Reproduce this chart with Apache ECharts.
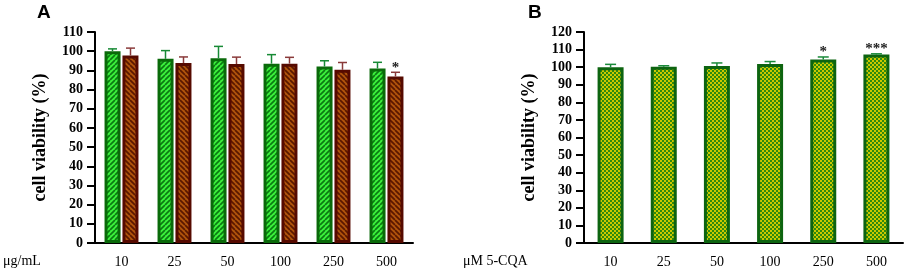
<!DOCTYPE html>
<html>
<head>
<meta charset="utf-8">
<script src="https://cdn.jsdelivr.net/npm/echarts@6/dist/echarts.min.js"></script>
<style>
  html, body { margin: 0; padding: 0; background: #fff; }
  #container { width: 906px; height: 275px; }
</style>
</head>
<body>
<div id="container"></div>
<script>
// data
var doses = ['10', '25', '50', '100', '250', '500'];
var yTicksA = [0, 110, 10];   // min, max, step
var yTicksB = [0, 120, 10];

// panel A: two extracts
var greenA = [100, 96, 96.3, 93.5, 92, 91];
var greenAErr = [1.2, 4.3, 6.2, 4.7, 3, 3.2];
var brownA = [97.8, 93.8, 93.3, 93.5, 90.3, 86.8];
var brownAErr = [3.8, 3.2, 3.6, 3.3, 3.8, 2.2];
var brownASig = ['', '', '', '', '', '*'];

// panel B: 5-CQA
var cqaB = [100, 100.2, 100.6, 101.8, 104.4, 107.2];
var cqaBErr = [1.6, 0.6, 1.8, 1.4, 1.4, 0.4];
var cqaBSig = ['', '', '', '', '*', '***'];

// fill patterns
function hatch(bg, fg, dir) {
    var c = document.createElement('canvas');
    var s = 5;
    c.width = s; c.height = s;
    var g = c.getContext('2d');
    g.fillStyle = bg;
    g.fillRect(0, 0, s, s);
    g.strokeStyle = fg;
    g.lineWidth = 1.7;
    g.beginPath();
    for (var k = -s; k <= s; k += s) {
        if (dir === '/') {
            g.moveTo(k, s); g.lineTo(k + s, 0);
        } else {
            g.moveTo(k, 0); g.lineTo(k + s, s);
        }
    }
    g.stroke();
    return { image: c, repeat: 'repeat' };
}

function checker(a, b) {
    var c = document.createElement('canvas');
    c.width = 4; c.height = 4;
    var g = c.getContext('2d');
    g.fillStyle = a; g.fillRect(0, 0, 4, 4);
    g.fillStyle = b; g.fillRect(0, 0, 2, 2); g.fillRect(2, 2, 2, 2);
    return { image: c, repeat: 'repeat' };
}

var serif = '"Liberation Serif", "Times New Roman", serif';

// error bars (upper whisker only) plus significance stars
function errSeries(xIdx, yIdx, vals, errs, sig, offset, cap, color) {
    var d = vals.map(function (v, i) { return [i, v, errs[i], i]; });
    return {
        type: 'custom',
        xAxisIndex: xIdx,
        yAxisIndex: yIdx,
        z: 5,
        silent: true,
        data: d,
        renderItem: function (params, api) {
            var i = api.value(0);
            var v = api.value(1);
            var e = api.value(2);
            var p0 = api.coord([i, v]);
            var p1 = api.coord([i, v + e]);
            var x = p0[0] + offset;
            var kids = [
                { type: 'line', shape: { x1: x, y1: p0[1], x2: x, y2: p1[1] }, style: { stroke: color, lineWidth: 1.5 } },
                { type: 'line', shape: { x1: x - cap / 2, y1: p1[1], x2: x + cap / 2, y2: p1[1] }, style: { stroke: color, lineWidth: 1.5 } }
            ];
            var s = sig ? sig[api.value(3)] : '';
            if (s) {
                kids.push({
                    type: 'text',
                    x: x, y: p1[1] + 3,
                    style: { text: s, fill: '#222', font: 'bold 15px ' + serif, align: 'center', verticalAlign: 'bottom' }
                });
            }
            return { type: 'group', children: kids };
        }
    };
}

function yAx(grid, t) {
    return {
        type: 'value',
        gridIndex: grid,
        min: t[0], max: t[1], interval: t[2],
        name: 'cell viability (%)',
        nameLocation: 'middle',
        nameGap: 46,
        nameTextStyle: { fontFamily: serif, fontWeight: 'bold', fontSize: 18, color: '#000' },
        axisLine: { show: true, lineStyle: { color: '#000', width: 2 } },
        axisTick: { show: true, length: 8, lineStyle: { color: '#000', width: 2 } },
        axisLabel: { margin: 12, fontFamily: serif, fontWeight: 'bold', fontSize: 14, color: '#000' },
        splitLine: { show: false }
    };
}

function xAx(grid) {
    return {
        type: 'category',
        gridIndex: grid,
        data: doses,
        axisLine: { lineStyle: { color: '#000', width: 2 } },
        axisTick: { alignWithLabel: true, length: 6, lineStyle: { color: '#000', width: 2 } },
        axisLabel: { margin: 12, fontFamily: serif, fontSize: 14, color: '#000' }
    };
}

var dom = document.getElementById('container');
var myChart = echarts.init(dom, null, { renderer: 'canvas' });

var option = {
    animation: false,
    grid: [
        { left: 95, right: 493, top: 32, bottom: 32 },
        { left: 584, right: 3, top: 32, bottom: 32 }
    ],
    xAxis: [xAx(0), xAx(1)],
    yAxis: [yAx(0, yTicksA), yAx(1, yTicksB)],
    graphic: [
        { type: 'text', left: 37, top: 3, style: { text: 'A', font: 'bold 19px "Liberation Sans", Arial, sans-serif', fill: '#000' } },
        { type: 'text', left: 528, top: 3, style: { text: 'B', font: 'bold 19px "Liberation Sans", Arial, sans-serif', fill: '#000' } },
        { type: 'text', left: 3, top: 254, style: { text: 'μg/mL', font: '14px ' + serif, fill: '#000' } },
        { type: 'text', left: 463, top: 254, style: { text: 'μM 5-CQA', font: '14px ' + serif, fill: '#000' } }
    ],
    series: [
        {
            type: 'bar', xAxisIndex: 0, yAxisIndex: 0,
            data: greenA,
            barWidth: 16, barGap: '12%',
            itemStyle: { color: hatch('#3cf03c', '#0b7a12', '/'), borderColor: '#0a6a0a', borderWidth: 3 }
        },
        {
            type: 'bar', xAxisIndex: 0, yAxisIndex: 0,
            data: brownA,
            barWidth: 16, barGap: '12%',
            itemStyle: { color: hatch('#b0540c', '#5a1800', '\\'), borderColor: '#560a00', borderWidth: 3 }
        },
        {
            type: 'bar', xAxisIndex: 1, yAxisIndex: 1,
            data: cqaB,
            barWidth: 26,
            itemStyle: { color: checker('#2f8a0c', '#ccc800'), borderColor: '#0d6410', borderWidth: 3 }
        },
        errSeries(0, 0, greenA, greenAErr, null, -9, 9, '#178a35'),
        errSeries(0, 0, brownA, brownAErr, brownASig, 9, 9, '#8a3a3a'),
        errSeries(1, 1, cqaB, cqaBErr, cqaBSig, 0, 11, '#1a8a3a')
    ]
};

myChart.setOption(option);
window.addEventListener('resize', myChart.resize);
</script>
</body>
</html>
